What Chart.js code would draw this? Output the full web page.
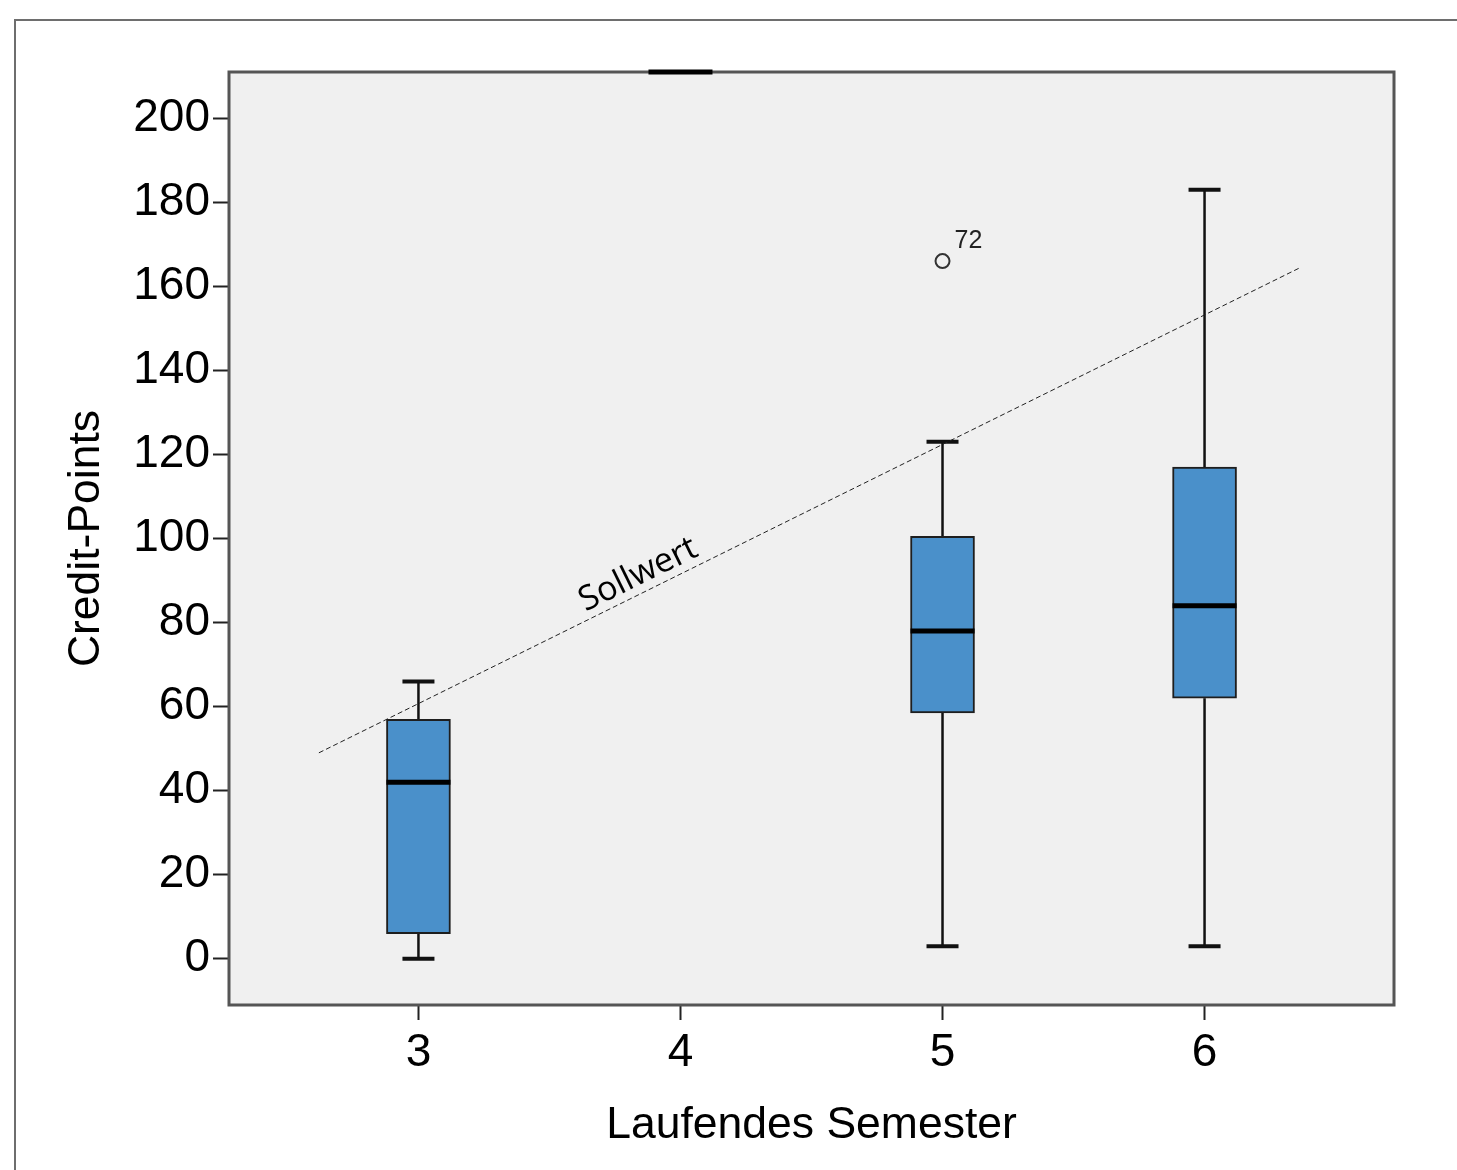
<!DOCTYPE html>
<html lang="de">
<head>
  <meta charset="UTF-8" />
  <title>Credit-Points nach laufendem Semester</title>
  <script src="https://cdn.jsdelivr.net/npm/chart.js"></script>
  <style>
    html, body { margin: 0; padding: 0; background: #fff; }
    #wrap { position: relative; width: 1457px; height: 1170px; overflow: hidden; }
    #frame {
      position: absolute; left: 14px; top: 19px; right: -4px; bottom: -4px;
      border-left: 2px solid #6e6e6e; border-top: 2px solid #6e6e6e;
    }
    #chart { position: absolute; left: 0; top: 0; }
  </style>
</head>
<body>
  <div id="wrap">
    <div id="frame"></div>
    <canvas id="chart" width="1457" height="1170"></canvas>
  </div>

  <script>
    // values
    const semesters   = [3, 4, 5, 6];
    const whiskerLow  = [0, null, 3, 3];
    const q1          = [6, null, 58.5, 62];
    const medians     = [42, 211, 78, 84];   // semester 4: only a line at the top edge
    const q3          = [57, null, 100.5, 117];
    const whiskerHigh = [66, null, 123, 183];

    const outlierX    = [5];
    const outlierY    = [166];
    const outlierIds  = ['72'];

    const sollX = [2.62, 6.36];
    const sollY = [49, 164.3];

    const yTicks = [0, 20, 40, 60, 80, 100, 120, 140, 160, 180, 200];

    const FONT = '"Liberation Sans", Arial, sans-serif';

    const boxParts = {
      id: 'boxParts',
      beforeDatasetsDraw(chart) {
        const { ctx, chartArea: a } = chart;
        const x = chart.scales.x, y = chart.scales.y;
        ctx.save();
        ctx.fillStyle = '#f0f0f0';
        ctx.fillRect(a.left, a.top, a.right - a.left, a.bottom - a.top);

        ctx.strokeStyle = '#111';
        semesters.forEach((s, i) => {
          if (whiskerLow[i] == null) return;
          const px = x.getPixelForValue(s);
          const seg = (x1, y1, x2, y2) => {
            ctx.beginPath(); ctx.moveTo(x1, y1); ctx.lineTo(x2, y2); ctx.stroke();
          };
          ctx.lineWidth = 2.5;
          seg(px, y.getPixelForValue(whiskerLow[i]), px, y.getPixelForValue(q1[i]));
          seg(px, y.getPixelForValue(q3[i]), px, y.getPixelForValue(whiskerHigh[i]));
          ctx.lineWidth = 4;
          const lo = y.getPixelForValue(whiskerLow[i]);
          const hi = y.getPixelForValue(whiskerHigh[i]);
          seg(px - 16, lo, px + 16, lo);
          seg(px - 16, hi, px + 16, hi);
        });
        ctx.restore();
      },
      afterDatasetsDraw(chart) {
        const { ctx, chartArea: a } = chart;
        const x = chart.scales.x, y = chart.scales.y;
        ctx.save();

        // Sollwert label along the dashed line
        const p1 = { x: x.getPixelForValue(sollX[0]), y: y.getPixelForValue(sollY[0]) };
        const p2 = { x: x.getPixelForValue(sollX[1]), y: y.getPixelForValue(sollY[1]) };
        const ang = Math.atan2(p2.y - p1.y, p2.x - p1.x);
        const tx = x.getPixelForValue(3.87);
        const ty = p1.y + (tx - p1.x) * Math.tan(ang);
        ctx.translate(tx, ty);
        ctx.rotate(ang);
        ctx.font = '34px "Open Sans", sans-serif';
        ctx.fillStyle = '#000';
        ctx.textAlign = 'center';
        ctx.textBaseline = 'bottom';
        ctx.fillText('Sollwert', 0, -1);
        ctx.restore();
        ctx.save();

        // outlier case number
        ctx.font = '25px ' + FONT;
        ctx.fillStyle = '#222';
        ctx.textAlign = 'left';
        ctx.textBaseline = 'alphabetic';
        outlierX.forEach((v, i) => {
          ctx.fillText(outlierIds[i], x.getPixelForValue(v) + 12, y.getPixelForValue(outlierY[i]) - 13);
        });

        // plot frame
        ctx.strokeStyle = '#555';
        ctx.lineWidth = 3;
        ctx.strokeRect(a.left, a.top, a.right - a.left, a.bottom - a.top);

        // medians
        ctx.strokeStyle = '#000';
        ctx.lineWidth = 5;
        semesters.forEach((s, i) => {
          if (medians[i] == null) return;
          const px = x.getPixelForValue(s);
          const py = Math.max(y.getPixelForValue(medians[i]), a.top);
          ctx.beginPath(); ctx.moveTo(px - 32, py); ctx.lineTo(px + 32, py); ctx.stroke();
        });
        ctx.restore();
      }
    };

    const boxData = semesters
      .map((s, i) => (q1[i] == null ? null : { x: s, y: [q1[i], q3[i]] }))
      .filter(d => d);

    new Chart(document.getElementById('chart'), {
      type: 'bar',
      data: {
        datasets: [
          {
            type: 'line',
            data: sollX.map((v, i) => ({ x: v, y: sollY[i] })),
            borderColor: '#222',
            borderWidth: 1,
            borderDash: [5, 3],
            pointRadius: 0,
            order: 1
          },
          {
            type: 'scatter',
            data: outlierX.map((v, i) => ({ x: v, y: outlierY[i] })),
            pointRadius: 7,
            pointBorderWidth: 2,
            borderColor: '#333',
            backgroundColor: 'rgba(0,0,0,0)',
            order: 2
          },
          {
            type: 'bar',
            data: boxData,
            backgroundColor: '#4a90ca',
            borderColor: '#1e1e1e',
            borderWidth: 2,
            borderSkipped: false,
            barThickness: 64,
            order: 3
          }
        ]
      },
      options: {
        responsive: false,
        animation: false,
        layout: { padding: { left: 15, top: 72, right: 63, bottom: 0 } },
        plugins: { legend: { display: false }, tooltip: { enabled: false } },
        scales: {
          x: {
            type: 'linear',
            offset: false,
            min: 2.277,
            max: 6.723,
            afterBuildTicks: s => { s.ticks = semesters.map(v => ({ value: v })); },
            afterFit: s => { s.height = 165; },
            grid: { offset: false, drawOnChartArea: false, tickLength: 15, tickWidth: 2, tickColor: '#222' },
            border: { display: false },
            ticks: { color: '#000', padding: 6, maxRotation: 0, autoSkip: false, font: { size: 46, family: FONT } },
            title: {
              display: true, text: 'Laufendes Semester', color: '#000',
              font: { size: 44.5, family: FONT }, padding: { top: 0, bottom: 18 }
            }
          },
          y: {
            min: -11,
            max: 211,
            afterBuildTicks: s => { s.ticks = yTicks.map(v => ({ value: v })); },
            afterFit: s => { s.width = 214; },
            grid: { drawOnChartArea: false, tickLength: 16, tickWidth: 2, tickColor: '#222' },
            border: { display: false },
            ticks: { color: '#000', padding: 3, font: { size: 46, family: FONT } },
            title: {
              display: true, text: 'Credit-Points', color: '#000',
              font: { size: 44.5, family: FONT }, padding: { top: 45, bottom: 0 }
            }
          }
        }
      },
      plugins: [boxParts]
    });
  </script>
</body>
</html>
